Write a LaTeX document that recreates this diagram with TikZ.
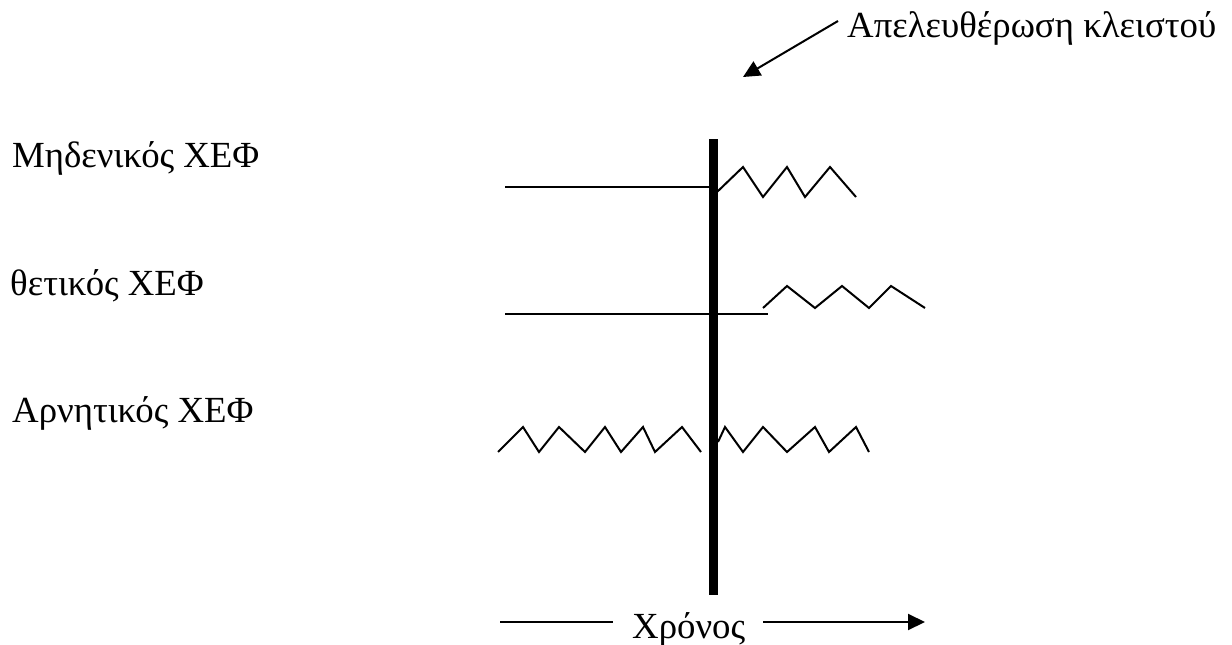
\documentclass[tikz,border=0pt]{standalone}
\usepackage{fontspec}
\setmainfont{Liberation Serif}
\usetikzlibrary{arrows.meta}
\begin{document}
\begin{tikzpicture}[x=1pt,y=-1pt,
  lbl/.style={anchor=base west,inner sep=0pt,font=\fontsize{36.8}{44}\selectfont},
  thin/.style={line width=2pt,line join=miter},
  bar/.style={line width=9pt},
  arr/.style={line width=2pt,-{Triangle[length=17pt,width=16pt]}}]
\useasboundingbox (0,0) rectangle (1232,645);
% labels
\node[lbl] (zero) at (12,167) {Μηδενικός ΧΕΦ};
\node[lbl] (pos) at (10,295) {θετικός ΧΕΦ};
\node[lbl] (neg) at (12,422) {Αρνητικός ΧΕΦ};
\node[lbl] (rel) at (847,37) {Απελευθέρωση κλειστού};
\node[lbl] (time) at (632,638) {Χρόνος};
% release bar
\coordinate (bartop) at (713.5,139);
\coordinate (barbot) at (713.5,595);
\draw[bar] (bartop) -- (barbot);
% release arrow
\coordinate (relstart) at (838,21);
\coordinate (reltip) at (743,77);
\draw[arr] (relstart) -- (reltip);
% zero
\draw[thin] (505,187) -- (710,187);
\draw[thin] (717,192) -- (743,167) -- (763,197) -- (787,167) -- (805,197) -- (830,167) -- (856,197);
% positive
\draw[thin] (505,314) -- (768,314);
\draw[thin] (763,308) -- (787,286) -- (815,308) -- (842,286) -- (869,308) -- (891,286) -- (925,308);
% negative
\draw[thin] (498,452) -- (523,427) -- (539,452) -- (559,427) -- (585,452) -- (605,427) -- (621,452) -- (643,427) -- (655,452) -- (682,427) -- (701,452);
\draw[thin] (718,442) -- (725,427) -- (743,452) -- (763,427) -- (787,452) -- (815,427) -- (829,452) -- (856,427) -- (869,452);
% time axis
\coordinate (tl) at (500,622);
\coordinate (tle) at (613,622);
\coordinate (tr) at (763,622);
\coordinate (ttip) at (925,622);
\draw[thin] (tl) -- (tle);
\draw[arr] (tr) -- (ttip);
\end{tikzpicture}
\end{document}
